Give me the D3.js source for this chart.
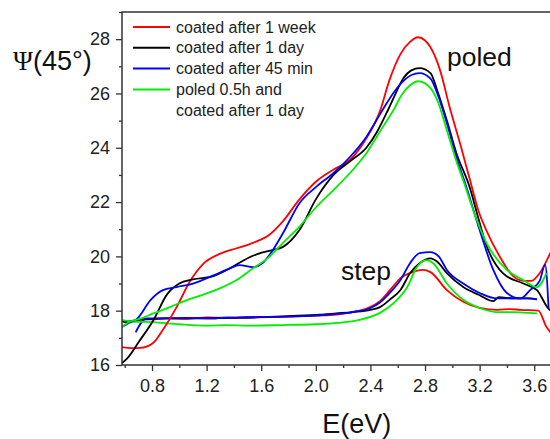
<!DOCTYPE html>
<html>
<head>
<meta charset="utf-8">
<script src="https://cdn.jsdelivr.net/npm/d3@7"></script>
<style>
  body { margin: 0; background: #fff; }
  svg { display: block; font-family: "Liberation Sans", Arial, sans-serif; }
</style>
</head>
<body>
<svg id="chart" width="550" height="439"></svg>
<script>
// Psi(45 deg) vs photon energy, "poled" and "step" spectra
const legendLabels = [
  ['coated after 1 week'],
  ['coated after 1 day'],
  ['coated after 45 min'],
  ['poled 0.5h and', 'coated after 1 day']
];
const seriesColors = ['#ff0000', '#000000', '#0000ff', '#00ee00'];

const xTicks = [0.8, 1.2, 1.6, 2.0, 2.4, 2.8, 3.2, 3.6];
const yTicks = [16, 18, 20, 22, 24, 26, 28];

// poled curves, [E (eV), Psi]
const poledWeek = [[0.58,16.66],[0.65,16.62],[0.71,16.63],[0.76,16.68],[0.81,16.82],[0.88,17.3],[0.98,18.13],
  [1.08,19.1],[1.17,19.7],[1.3,20.1],[1.42,20.3],[1.54,20.5],[1.66,20.8],[1.76,21.3],[1.88,22.1],[2.0,22.75],
  [2.13,23.2],[2.25,23.55],[2.37,24.35],[2.47,25.35],[2.54,26.5],[2.62,27.45],[2.69,27.9],[2.75,28.07],[2.8,27.95],
  [2.84,27.7],[2.91,26.86],[2.98,25.5],[3.06,24.1],[3.13,22.8],[3.19,21.7],[3.25,20.95],[3.35,19.97],[3.44,19.3],
  [3.52,19.1],[3.58,19.1],[3.64,19.38],[3.72,20.15]];
const poledDay = [[0.58,16.07],[0.62,16.25],[0.71,16.9],[0.81,17.65],[0.91,18.6],[1.0,19.0],[1.1,19.15],[1.25,19.27],
  [1.37,19.56],[1.5,19.93],[1.61,20.15],[1.68,20.23],[1.76,20.35],[1.88,20.97],[2.0,22.1],[2.13,23.0],[2.25,23.5],
  [2.37,24.0],[2.45,24.6],[2.52,25.3],[2.58,25.95],[2.64,26.55],[2.7,26.85],[2.76,26.93],[2.84,26.75],[2.89,26.1],
  [2.96,25.0],[3.03,23.8],[3.13,22.5],[3.18,21.6],[3.25,20.4],[3.37,19.38],[3.52,19.0],[3.62,18.76],[3.7,18.1],
  [3.72,18.0]];
const poled45 = [[0.58,17.4],[0.63,17.55],[0.69,17.7],[0.79,18.4],[0.88,18.76],[0.98,18.87],[1.1,19.0],[1.25,19.3],
  [1.37,19.56],[1.44,19.68],[1.54,19.6],[1.61,19.75],[1.66,20.05],[1.76,20.86],[1.88,21.96],[2.0,22.55],[2.13,23.07],
  [2.25,23.66],[2.37,24.4],[2.49,25.4],[2.58,26.1],[2.65,26.5],[2.7,26.68],[2.76,26.75],[2.84,26.55],[2.89,26.0],
  [2.96,24.9],[3.03,23.65],[3.1,22.6],[3.2,20.97],[3.3,19.5],[3.4,18.65],[3.5,18.45],[3.57,18.76],[3.64,19.1],
  [3.68,19.7],[3.705,18.1]];
const poledHalfHour = [[0.58,17.4],[0.64,17.6],[0.71,17.7],[0.81,17.9],[0.93,18.13],[1.06,18.4],[1.17,18.58],
  [1.3,18.83],[1.42,19.13],[1.54,19.56],[1.64,19.9],[1.76,20.5],[1.88,21.1],[2.0,21.8],[2.13,22.45],[2.25,23.07],
  [2.37,23.8],[2.49,24.76],[2.57,25.4],[2.63,25.95],[2.69,26.3],[2.75,26.45],[2.84,26.2],[2.89,25.75],[2.96,24.65],
  [3.03,23.5],[3.08,22.8],[3.16,21.6],[3.25,20.5],[3.4,19.5],[3.52,19.13],[3.62,18.87],[3.69,19.38]];

// step curves, [E (eV), Psi]
const stepWeek = [[0.72,17.7],[0.8,17.68],[0.9,17.72],[1.05,17.7],[1.2,17.75],[1.35,17.73],[1.5,17.75],[1.65,17.76],
  [1.8,17.78],[2.0,17.82],[2.15,17.86],[2.27,17.95],[2.38,18.1],[2.47,18.35],[2.55,18.8],[2.62,19.2],[2.71,19.42],
  [2.78,19.5],[2.84,19.42],[2.96,18.76],[3.08,18.33],[3.2,18.1],[3.33,18.03],[3.42,18.06],[3.5,18.03],[3.63,18.0],
  [3.69,17.4],[3.72,17.2]];
const stepDay = [[0.58,17.62],[0.6,17.58],[0.65,17.62],[0.75,17.68],[0.9,17.72],[1.05,17.72],[1.2,17.72],[1.35,17.74],
  [1.5,17.75],[1.65,17.77],[1.8,17.8],[2.03,17.85],[2.15,17.9],[2.27,17.95],[2.4,18.03],[2.47,18.13],[2.54,18.4],
  [2.62,18.76],[2.69,19.38],[2.76,19.75],[2.84,19.93],[2.89,19.8],[2.96,19.38],[3.08,18.87],[3.2,18.57],[3.3,18.35],
  [3.34,18.5],[3.45,18.45],[3.55,18.45],[3.62,18.42]];
const step45 = [[0.68,17.2],[0.72,17.55],[0.76,17.72],[0.9,17.72],[1.05,17.73],[1.2,17.72],[1.35,17.74],[1.5,17.75],
  [1.65,17.77],[1.8,17.78],[2.0,17.82],[2.15,17.88],[2.27,17.95],[2.4,18.1],[2.47,18.3],[2.55,18.7],[2.62,19.13],
  [2.69,19.75],[2.76,20.12],[2.84,20.16],[2.9,20.0],[2.96,19.5],[3.08,19.0],[3.2,18.65],[3.33,18.45],[3.45,18.45],
  [3.57,18.45],[3.62,18.42]];
const stepHalfHour = [[0.58,17.66],[0.65,17.6],[0.8,17.58],[1.0,17.5],[1.2,17.45],[1.35,17.47],[1.5,17.45],
  [1.75,17.47],[2.0,17.5],[2.16,17.55],[2.32,17.66],[2.47,17.92],[2.57,18.28],[2.67,18.87],[2.74,19.6],[2.81,19.86],
  [2.86,19.75],[2.96,19.0],[3.08,18.4],[3.2,18.1],[3.32,17.95],[3.44,17.95],[3.52,17.93],[3.62,17.9]];

const poledSeries = [poledWeek, poledDay, poled45, poledHalfHour];
const stepSeries = [stepWeek, stepDay, step45, stepHalfHour];

const svg = d3.select('#chart');
const margin = {left: 122, top: 12, bottom: 365};

const x = d3.scaleLinear().domain([0.58, 3.8]).range([margin.left, margin.left + 3.22 * 136.5]);
const y = d3.scaleLinear().domain([16, 29]).range([margin.bottom, margin.top]);

svg.append('defs').append('clipPath').attr('id', 'plot-clip')
  .append('rect')
  .attr('x', margin.left).attr('y', margin.top)
  .attr('width', x.range()[1] - margin.left).attr('height', margin.bottom - margin.top);

const line = d3.line().x(d => x(d[0])).y(d => y(d[1])).curve(d3.curveMonotoneX);

const lineGroup = svg.append('g').attr('clip-path', 'url(#plot-clip)');
[stepSeries, poledSeries].forEach(group => {
  group.forEach((s, i) => {
    lineGroup.append('path')
      .datum(s)
      .attr('d', line)
      .style('fill', 'none')
      .style('stroke', seriesColors[i])
      .style('stroke-width', 1.8);
  });
});

// Axes with outward ticks and unlabelled minor ticks
const axisColor = '#333';
const xMinor = d3.range(0.6, 3.81, 0.4).map(v => +v.toFixed(1));
const yMinor = d3.range(17, 30, 2);

svg.append('g')
  .attr('transform', `translate(0, ${margin.bottom})`)
  .call(d3.axisBottom(x).tickValues(xTicks).tickFormat(d3.format('.1f')).tickSize(6).tickPadding(8));
svg.append('g')
  .attr('transform', `translate(0, ${margin.bottom})`)
  .call(d3.axisBottom(x).tickValues(xMinor).tickFormat('').tickSize(3))
  .select('.domain').remove();

svg.append('g')
  .attr('transform', `translate(${margin.left}, 0)`)
  .call(d3.axisLeft(y).tickValues(yTicks).tickSize(6).tickPadding(6));
svg.append('g')
  .attr('transform', `translate(${margin.left}, 0)`)
  .call(d3.axisLeft(y).tickValues(yMinor).tickFormat('').tickSize(3))
  .select('.domain').remove();

svg.selectAll('.domain').attr('d', null);
svg.selectAll('.tick line').style('stroke', axisColor).style('stroke-width', 1.3);
svg.selectAll('.tick text')
  .style('font-family', '"Liberation Sans", Arial, sans-serif')
  .style('font-size', '18px')
  .style('fill', '#222');

// Frame: left, bottom and top border
svg.append('path')
  .attr('d', `M${x.range()[1]},${margin.top}H${margin.left}V${margin.bottom}H${x.range()[1]}`)
  .style('fill', 'none')
  .style('stroke', axisColor)
  .style('stroke-width', 1.5);

// Axis titles
const yTitle = svg.append('text')
  .attr('x', 13)
  .attr('y', 70)
  .style('font-size', '27px')
  .style('fill', '#111');
yTitle.append('tspan').style('font-family', '"Liberation Serif", serif').text('Ψ');
yTitle.append('tspan').text('(45°)');

svg.append('text')
  .attr('x', x(2.3))
  .attr('y', 433)
  .style('font-size', '27px')
  .style('fill', '#111')
  .style('text-anchor', 'middle')
  .text('E(eV)');

svg.append('text')
  .attr('x', 447).attr('y', 66)
  .style('font-size', '26.5px').style('fill', '#111')
  .text('poled');
svg.append('text')
  .attr('x', 341).attr('y', 280)
  .style('font-size', '26.5px').style('fill', '#111')
  .text('step');

// Legend
const legendGroup = svg.append('g').attr('class', 'legend-group');
const rowGap = 20.8;
let row = 0;
legendLabels.forEach((lines, i) => {
  const cy = 27 + row * rowGap;
  legendGroup.append('line')
    .attr('x1', 133).attr('x2', 170)
    .attr('y1', cy).attr('y2', cy)
    .style('stroke', seriesColors[i])
    .style('stroke-width', 2);
  lines.forEach((t, j) => {
    legendGroup.append('text')
      .attr('x', 176)
      .attr('y', cy + j * rowGap + 5.5)
      .style('font-size', '16px')
      .style('fill', '#222')
      .text(t);
  });
  row += lines.length;
});
</script>
</body>
</html>
